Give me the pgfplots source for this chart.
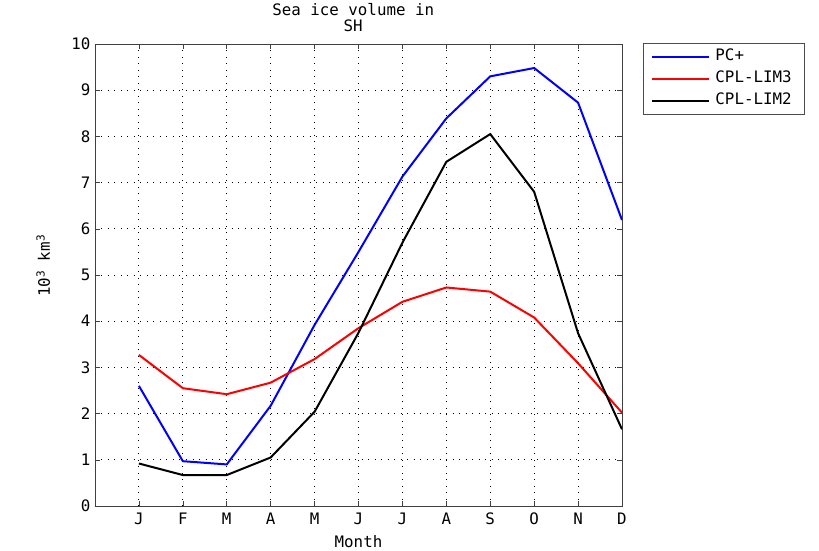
\documentclass[border=0pt]{standalone}
\usepackage{pgfplots}
\pgfplotsset{compat=1.18}
\usepackage{fontspec}
\setmainfont{DejaVu Sans Mono}
\newcommand{\cf}{\fontsize{15.8}{16}\selectfont}
\begin{document}
\begin{tikzpicture}
\path[use as bounding box] (-95pt,-44pt) rectangle (724pt,506pt);
\begin{axis}[
  scale only axis,
  width=527pt, height=462pt,
  xmin=0, xmax=12, ymin=0, ymax=10,
  xtick={1,...,12},
  xticklabels={J,F,M,A,M,J,J,A,S,O,N,D},
  ytick={0,1,...,10},
  tick align=inside,
  major tick length=5pt,
  axis line style={black!75, line width=0.8pt},
  tick style={black!75, line width=0.6pt},
  grid=major,
  major grid style={black, line width=0.9pt, dash pattern=on 0.9pt off 5.6pt},
  /pgf/number format/assume math mode=true,
  ticklabel style={font=\cf},
  yticklabel style={xshift=-1pt},
  xticklabel style={yshift=-3pt},
  title={Sea ice volume in\\SH},
  title style={at={(axis description cs:0.49,1)}, anchor=south, align=center, font=\cf, yshift=3pt},
  xlabel={Month},
  xlabel style={at={(axis description cs:0.5,-0.076)}, anchor=center, font=\cf},
  ylabel={10\textsuperscript{3} km\textsuperscript{3}},
  ylabel style={at={(axis description cs:-0.098,0.52)}, anchor=center, font=\cf},
  legend style={at={(axis description cs:1.04,1.002)}, anchor=north west,
    draw=black!70, line width=0.8pt, font=\cf, inner xsep=8pt, inner ysep=5pt,
    row sep=5pt, nodes={inner xsep=5pt, inner ysep=1.5pt, text height=11pt, text depth=3pt}},
  legend cell align=left,
  legend image code/.code={\draw[#1, line width=2pt] (0pt,0pt) -- (57pt,0pt);},
]
\addplot[blue, line width=2pt] coordinates {(1,2.6) (2,0.97) (3,0.9) (4,2.17) (5,3.92) (6,5.5) (7,7.13) (8,8.39) (9,9.3) (10,9.48) (11,8.73) (12,6.19)};
\addlegendentry{PC+}
\addplot[red, line width=2pt] coordinates {(1,3.27) (2,2.55) (3,2.42) (4,2.67) (5,3.18) (6,3.85) (7,4.42) (8,4.73) (9,4.64) (10,4.08) (11,3.09) (12,2.02)};
\addlegendentry{CPL-LIM3}
\addplot[black, line width=2pt] coordinates {(1,0.92) (2,0.67) (3,0.67) (4,1.05) (5,2.04) (6,3.75) (7,5.7) (8,7.45) (9,8.05) (10,6.8) (11,3.74) (12,1.66)};
\addlegendentry{CPL-LIM2}
\end{axis}
\end{tikzpicture}
\end{document}
